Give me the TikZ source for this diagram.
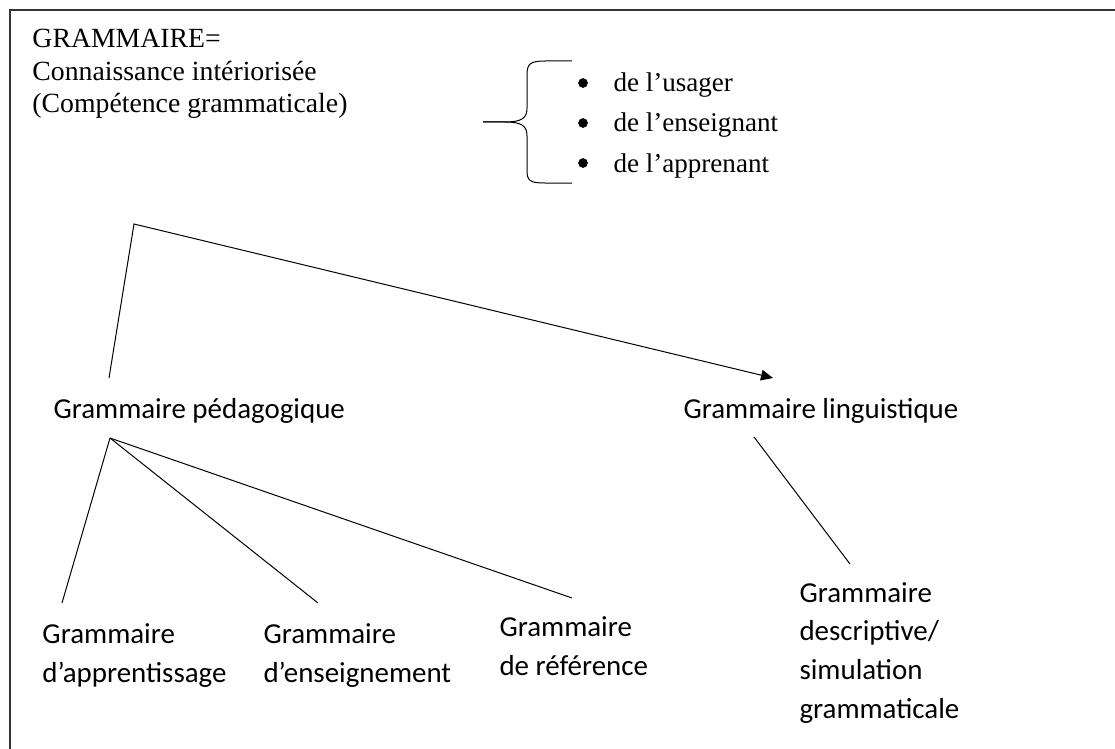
\documentclass[tikz,border=0pt]{standalone}
\usepackage{fontspec}
\setmainfont{Liberation Serif}
\newfontfamily\calibri{Carlito}
\usetikzlibrary{arrows.meta}

\begin{document}
\begin{tikzpicture}
  [x=0.75pt,y=-0.75pt,line width=0.75pt,
   every node/.style={inner sep=0pt,anchor=base west,align=left},
   titre/.style={font=\fontsize{20.8}{24.5}\selectfont},
   item/.style={font=\fontsize{20.3}{25.1}\selectfont},
   gram/.style={font=\calibri\fontsize{21.7}{29}\selectfont},
   puce/.style={circle,fill,anchor=center,minimum size=7.3pt}]
  \useasboundingbox (0,0) rectangle (1115,749);
  \draw[line width=1.2pt,black!80] (10,749) -- (10,10) -- (1115,10);

  % definition en haut
  \node[titre] (def) at (32,113) {GRAMMAIRE=\\Connaissance intériorisée\\(Compétence grammaticale)};
  \draw (483,122) -- (505,122) .. controls (522,122) and (527,118) .. (527,108)
    -- (527,75) .. controls (527,64) and (530,61) .. (545,61) -- (572,61);
  \draw (483,122) -- (505,122) .. controls (522,122) and (527,126) .. (527,136)
    -- (527,170) .. controls (527,181) and (530,183) .. (545,183) -- (572,183);
  \foreach \qui [count=\i] in {usager,enseignant,apprenant} {
    \node[puce] (puce\i) at (583,{43+40*\i}) {};
    \node[item] (qui\i) at (613,{52+40*\i}) {de l’\qui};
  }

  % les deux grammaires
  \node[gram] (ped) at (53,418) {Grammaire pédagogique};
  \node[gram] (ling) at (683,418) {Grammaire linguistique};
  \coordinate (pied) at (109,378);
  \coordinate (coin) at (134,224);
  \coordinate (pointe) at (773,378);
  \draw[-{Triangle[length=9pt,width=8pt]}] (pied) -- (coin) -- (pointe);

  % sous-types
  \node[gram] (app) at (42,682) {Grammaire\\d’apprentissage};
  \node[gram] (ens) at (263,682) {Grammaire\\d’enseignement};
  \node[gram] (ref) at (499,675) {Grammaire\\de référence};
  \node[gram] (desc) at (799,718) {Grammaire\\descriptive/\\simulation\\grammaticale};
  \coordinate (fourche) at (110,438);
  \coordinate (fin1) at (62,603);
  \coordinate (fin2) at (318,603);
  \coordinate (fin3) at (572,598);
  \foreach \f in {fin1,fin2,fin3}
    \draw (fourche) -- (\f);
  \coordinate (ling1) at (754,437);
  \coordinate (ling2) at (850,564);
  \draw (ling1) -- (ling2);
\end{tikzpicture}
\end{document}
